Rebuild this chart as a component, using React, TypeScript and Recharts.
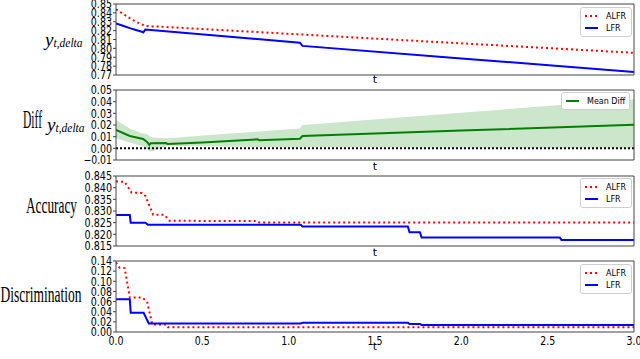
"use client";

import type { ReactNode } from "react";
import { Area, ComposedChart, Legend, Line, ReferenceLine, XAxis, YAxis } from "recharts";

// shared time axis
const tTicks = [0, 0.5, 1, 1.5, 2, 2.5, 3];

// panel 1: y_t,delta
const deltaTicks = [0.77, 0.78, 0.79, 0.8, 0.81, 0.82, 0.83, 0.84, 0.85];
const deltaAlfrT = [0, 0.04, 0.08, 0.12, 0.17, 0.2, 0.25, 0.66, 1.5, 2.25, 3.0];
const deltaAlfr = [0.844, 0.839, 0.834, 0.8295, 0.8255, 0.8248, 0.8245, 0.8201, 0.811, 0.803, 0.795];
const deltaLfrT = [0, 0.04, 0.08, 0.12, 0.15, 0.158, 0.17, 0.66, 1.065, 1.08, 2.0, 3.0];
const deltaLfr = [0.8282, 0.8255, 0.8228, 0.8205, 0.8188, 0.818, 0.8212, 0.8131, 0.8063, 0.8028, 0.7887, 0.7735];

// panel 2: diff of y_t,delta (mean + band)
const diffTicks = [-0.01, 0, 0.01, 0.02, 0.03, 0.04, 0.05];
const diffT = [0, 0.08, 0.157, 0.18, 0.193, 0.2, 0.29, 0.3, 0.5, 0.82, 0.83, 1.065, 1.08, 2.0, 3.0];
const diffMean = [0.0157, 0.0106, 0.008, 0.0055, 0.0029, 0.0043, 0.0045, 0.0037, 0.005, 0.0077, 0.0069, 0.0083, 0.0105, 0.0152, 0.0202];
const bandT = [0, 0.08, 0.15, 0.18, 0.2, 0.22, 0.3, 0.6, 1.065, 1.08, 2.0, 3.0];
const bandHi = [0.0243, 0.0171, 0.013, 0.012, 0.01, 0.009, 0.0086, 0.012, 0.0171, 0.02, 0.0305, 0.042];
const bandLo = [0.0086, 0.005, 0.002, -0.001, -0.0029, -0.002, 0.0023, 0.0015, 0.0005, 0.001, 0.0005, 0];

// panel 3: accuracy
const accTicks = [0.815, 0.82, 0.825, 0.83, 0.835, 0.84, 0.845];
const accAlfrT = [0, 0.05, 0.09, 0.15, 0.17, 0.215, 0.28, 0.31, 0.82, 0.83, 3.0];
const accAlfr = [0.8427, 0.8425, 0.8379, 0.8377, 0.8365, 0.8284, 0.8284, 0.8258, 0.8257, 0.8251, 0.8251];
const accLfrT = [0, 0.08, 0.085, 0.17, 0.185, 1.07, 1.08, 1.69, 1.7, 1.76, 1.77, 2.57, 2.58, 3.0];
const accLfr = [0.8283, 0.8283, 0.825, 0.825, 0.8241, 0.8241, 0.8234, 0.8234, 0.8209, 0.8209, 0.8186, 0.8186, 0.8176, 0.8176];

// panel 4: discrimination
const discTicks = [0, 0.02, 0.04, 0.06, 0.08, 0.1, 0.12, 0.14];
const discAlfrT = [0, 0.02, 0.05, 0.08, 0.15, 0.18, 0.21, 0.29, 0.3, 3.0];
const discAlfr = [0.137, 0.127, 0.126, 0.068, 0.068, 0.06, 0.015, 0.015, 0.0095, 0.0095];
const discLfrT = [0, 0.08, 0.085, 0.16, 0.19, 1.07, 1.08, 1.69, 1.7, 1.76, 1.77, 3.0];
const discLfr = [0.0645, 0.0645, 0.038, 0.038, 0.0169, 0.0169, 0.0183, 0.0183, 0.016, 0.016, 0.014, 0.014];

type Pt = { t: number; v: number };
const zip = (t: number[], v: number[]): Pt[] => t.map((x, i) => ({ t: x, v: v[i] }));
const bandData = bandT.map((t, i) => ({ t, band: [bandLo[i], bandHi[i]] }));

const AXIS = "#444";
const RED = "#ff0000";
const BLUE = "#0000ff";
const GREEN = "#008000";

function tickWidth(s: string) {
  let w = 0;
  for (const c of s) w += c === "." ? 2.6 : c === "\u2212" ? 7.4 : 6.2;
  return w;
}

function fmt(v: number, d: number) {
  const s = Math.abs(v).toFixed(d);
  return v < -1e-9 ? "\u2212" + s : s;
}

function YTick({ x, y, payload, decimals }: any) {
  const s = fmt(payload.value, decimals);
  return (
    <text x={x} y={y} dy="0.36em" textAnchor="end" fontFamily="DejaVu Sans" fontSize={12} fill="#000"
      textLength={tickWidth(s)} lengthAdjust="spacingAndGlyphs">
      {s}
    </text>
  );
}

function XTick({ x, y, payload }: any) {
  const s = payload.value.toFixed(1);
  return (
    <text x={x} y={y + 7} textAnchor="middle" fontFamily="DejaVu Sans" fontSize={12} fill="#000"
      textLength={tickWidth(s)} lengthAdjust="spacingAndGlyphs">
      {s}
    </text>
  );
}

function LegendBox({ payload }: any) {
  const items = (payload ?? []).filter((e: any) => e.type !== "none");
  return (
    <div style={{ border: "1px solid #cfcfcf", borderRadius: 3, background: "#fff", padding: "2px 3px 2px 4px", fontFamily: "DejaVu Sans", fontSize: 8, color: "#000" }}>
      {items.map((e: any) => (
        <div key={e.value} style={{ display: "flex", alignItems: "center", height: 12 }}>
          <svg width={13} height={4} style={{ flex: "none" }}>
            <line x1={0} y1={2} x2={13} y2={2} stroke={e.color} strokeWidth={2} strokeDasharray={e.payload?.strokeDasharray} />
          </svg>
          <span style={{ marginLeft: 8, whiteSpace: "nowrap" }}>{e.value}</span>
        </div>
      ))}
    </div>
  );
}

const serif = "Liberation Serif";

function DeltaLabel({ x, y }: { x: number; y: number }) {
  return (
    <>
      <text x={x} y={y} fontFamily={serif} fontStyle="italic" fontSize={18} textLength={8.5} lengthAdjust="spacingAndGlyphs">y</text>
      <text x={x + 8.5} y={y + 1} fontFamily={serif} fontStyle="italic" fontSize={11.5} textLength={29} lengthAdjust="spacingAndGlyphs">t,delta</text>
    </>
  );
}

interface PanelProps {
  top: number;
  height: number;
  marginTop: number;
  axisHeight: number;
  ticks: number[];
  decimals: number;
  xLabels?: boolean;
  tBase: number;
  yLabel: ReactNode;
  legend: { left: number; top: number; width: number };
  data?: any[];
  children: ReactNode;
}

// extra room under each chart so the "t" label is not clipped; charts are transparent and overlap
const SPILL = 8;

function Panel({ top, height, marginTop, axisHeight, ticks, decimals, xLabels, tBase, yLabel, legend, data, children }: PanelProps) {
  const domain: [number, number] = [ticks[0], ticks[ticks.length - 1]];
  return (
    <div style={{ position: "absolute", left: 0, top }}>
      <ComposedChart width={640} height={height + SPILL} data={data} margin={{ top: marginTop, right: 6, bottom: 0, left: 0 }}>
        <XAxis xAxisId="b" dataKey="t" type="number" domain={[0, 3]} ticks={tTicks} interval={0} allowDataOverflow
          height={axisHeight + SPILL} stroke={AXIS} tickLine={false} tickSize={4} tickMargin={2}
          tick={xLabels ? <XTick /> : false}
          label={{ content: () => (
            <text x={375} y={tBase - top} textAnchor="middle" fontFamily="DejaVu Sans" fontSize={11} fill="#000">t</text>
          ) }} />
        <XAxis xAxisId="bm" type="number" orientation="bottom" mirror domain={[0, 3]} ticks={tTicks} interval={0}
          allowDataOverflow height={4} axisLine={false} stroke={AXIS} tickSize={4} tick={false} />
        <XAxis xAxisId="tm" type="number" orientation="top" mirror domain={[0, 3]} ticks={tTicks} interval={0}
          allowDataOverflow height={4} stroke={AXIS} tickSize={4} tick={false} />
        <YAxis yAxisId="l" type="number" domain={domain} ticks={ticks} interval={0} allowDataOverflow width={116}
          stroke={AXIS} tickSize={3} tickMargin={1} tick={<YTick decimals={decimals} />}
          label={{ content: () => <g transform={`translate(0, ${-top})`}>{yLabel}</g> }} />
        <YAxis yAxisId="rm" type="number" orientation="right" mirror domain={domain} ticks={ticks} interval={0}
          allowDataOverflow width={4} stroke={AXIS} tickSize={4} tick={false} />
        <Legend layout="vertical" align="center" verticalAlign="middle"
          wrapperStyle={{ left: legend.left, top: legend.top, width: legend.width }} content={<LegendBox />} />
        {children}
      </ComposedChart>
    </div>
  );
}

export default function App() {
  return (
    <div style={{ position: "fixed", left: 0, top: 0, width: 640, height: 359, background: "#fff", overflow: "hidden" }}>
      <Panel top={0} height={84} marginTop={4} axisHeight={9} ticks={deltaTicks} decimals={2} tBase={83}
        legend={{ left: 580, top: 7, width: 52 }}
        yLabel={<DeltaLabel x={45} y={46} />}>
        <Line xAxisId="b" yAxisId="l" data={zip(deltaAlfrT, deltaAlfr)} dataKey="v" name="ALFR" stroke={RED}
          strokeWidth={2} strokeDasharray="2 3" dot={false} isAnimationActive={false} />
        <Line xAxisId="b" yAxisId="l" data={zip(deltaLfrT, deltaLfr)} dataKey="v" name="LFR" stroke={BLUE}
          strokeWidth={2} dot={false} isAnimationActive={false} />
      </Panel>

      <Panel top={84} height={87} marginTop={6} axisHeight={11} ticks={diffTicks} decimals={2} tBase={170}
        legend={{ left: 561, top: 8, width: 69 }} data={bandData}
        yLabel={
          <>
            <text x={23} y={128} fontFamily={serif} fontSize={26} textLength={19} lengthAdjust="spacingAndGlyphs">Diff</text>
            <DeltaLabel x={47} y={131} />
          </>
        }>
        <Area xAxisId="b" yAxisId="l" dataKey="band" type="linear" fill={GREEN} fillOpacity={0.2} stroke="none"
          legendType="none" isAnimationActive={false} />
        <ReferenceLine xAxisId="b" yAxisId="l" y={0} stroke="#000" strokeWidth={2} strokeDasharray="2 2" />
        <Line xAxisId="b" yAxisId="l" data={zip(diffT, diffMean)} dataKey="v" name="Mean Diff" stroke={GREEN}
          strokeWidth={2} dot={false} isAnimationActive={false} />
      </Panel>

      <Panel top={171} height={85} marginTop={5} axisHeight={10} ticks={accTicks} decimals={3} tBase={256}
        legend={{ left: 580, top: 7, width: 52 }}
        yLabel={<text x={26} y={213} fontFamily={serif} fontSize={24} textLength={51} lengthAdjust="spacingAndGlyphs">Accuracy</text>}>
        <Line xAxisId="b" yAxisId="l" data={zip(accAlfrT, accAlfr)} dataKey="v" name="ALFR" stroke={RED}
          strokeWidth={2} strokeDasharray="2 3" dot={false} isAnimationActive={false} />
        <Line xAxisId="b" yAxisId="l" data={zip(accLfrT, accLfr)} dataKey="v" name="LFR" stroke={BLUE}
          strokeWidth={2} dot={false} isAnimationActive={false} />
      </Panel>

      <Panel top={256} height={103} marginTop={5} axisHeight={27} ticks={discTicks} decimals={2} xLabels tBase={350}
        legend={{ left: 580, top: 8, width: 52 }}
        yLabel={<text x={0.5} y={301.5} fontFamily={serif} fontSize={24} textLength={81} lengthAdjust="spacingAndGlyphs">Discrimination</text>}>
        <Line xAxisId="b" yAxisId="l" data={zip(discAlfrT, discAlfr)} dataKey="v" name="ALFR" stroke={RED}
          strokeWidth={2} strokeDasharray="2 3" dot={false} isAnimationActive={false} />
        <Line xAxisId="b" yAxisId="l" data={zip(discLfrT, discLfr)} dataKey="v" name="LFR" stroke={BLUE}
          strokeWidth={2} dot={false} isAnimationActive={false} />
      </Panel>
    </div>
  );
}
